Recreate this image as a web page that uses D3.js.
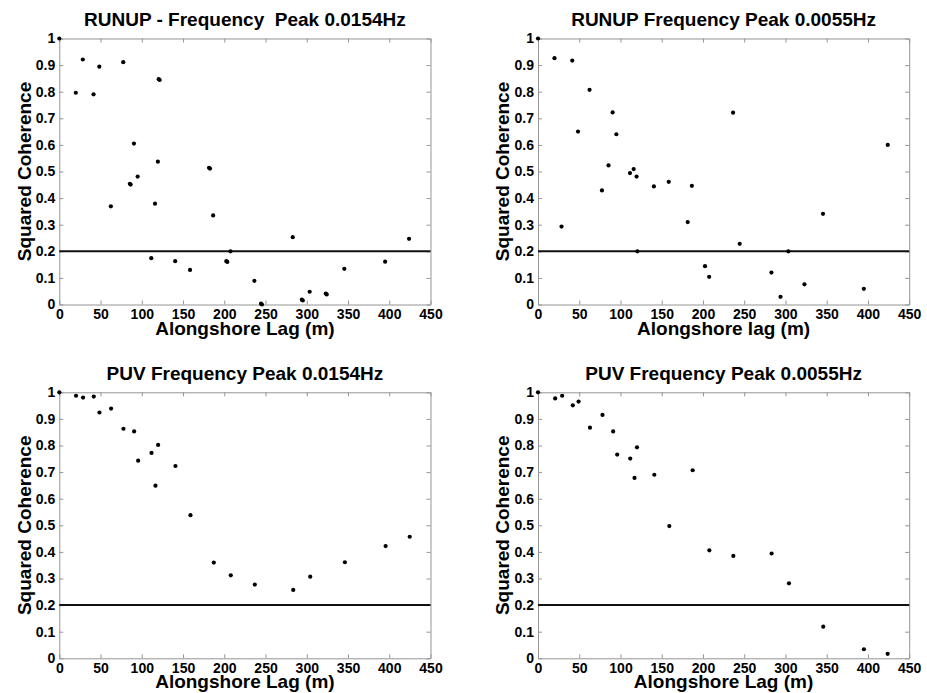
<!DOCTYPE html>
<html>
<head>
<meta charset="utf-8">
<script src="https://cdn.jsdelivr.net/npm/d3@7"></script>
<style>
  html, body { margin: 0; padding: 0; background: #fff; }
  svg { display: block; }
  text { font-family: "Liberation Sans", Arial, Helvetica, sans-serif; font-weight: bold; fill: #000; }
</style>
</head>
<body>
<svg id="chart" width="927" height="693"></svg>
<script>
// Alongshore lag (m) and squared coherence for each sensor pair.
// RUNUP, peak 0.0154 Hz
const runup154Lag = [0, 20, 28.5, 41.5, 48.5, 62.5, 77.5, 85.5, 86.5, 90.5, 95, 111.5, 116, 119.5, 120.5, 121.7,
  140.5, 158.5, 181.5, 182.7, 186.5, 202.5, 203.7, 207.5, 236.5, 244.5, 245.7, 283, 294, 295.2, 303.5, 323, 324.2,
  345.5, 395, 424];
const runup154Coh = [1.0, 0.796, 0.921, 0.790, 0.894, 0.369, 0.911, 0.454, 0.451, 0.605, 0.481, 0.174, 0.379, 0.537, 0.847, 0.844,
  0.163, 0.130, 0.514, 0.511, 0.335, 0.163, 0.160, 0.200, 0.089, 0.003, 0.000, 0.253, 0.018, 0.015, 0.048, 0.041, 0.038,
  0.134, 0.161, 0.247];

// RUNUP, peak 0.0055 Hz
const runup55Lag = [0, 20, 28.5, 41.5, 48.5, 62.5, 77.5, 85.5, 90.5, 95, 111.5, 116, 119.5, 120.5,
  140.5, 158.5, 181.5, 186.5, 202.5, 207.5, 236.5, 244.5, 283, 294, 303.5, 323, 345.5, 395, 424];
const runup55Coh = [1.0, 0.926, 0.293, 0.917, 0.650, 0.807, 0.429, 0.523, 0.722, 0.640, 0.494, 0.509, 0.481, 0.200,
  0.444, 0.461, 0.310, 0.446, 0.144, 0.104, 0.721, 0.228, 0.120, 0.029, 0.200, 0.076, 0.341, 0.059, 0.600];

// PUV, peak 0.0154 Hz
const puv154Lag = [0, 20.3, 28.8, 41.8, 48.7, 62.8, 77.8, 90.7, 95.6, 111.8, 116.6, 119.8, 140.8, 159, 187.3,
  207.9, 237, 283.6, 304.2, 346.2, 395.6, 424.8];
const puv154Coh = [1.0, 0.987, 0.980, 0.984, 0.924, 0.939, 0.863, 0.853, 0.743, 0.772, 0.649, 0.802, 0.723, 0.538, 0.360,
  0.312, 0.277, 0.257, 0.307, 0.361, 0.422, 0.457];

// PUV, peak 0.0055 Hz
const puv55Lag = [0, 20.8, 29.3, 42.2, 49.2, 63, 78.2, 91.1, 96, 111.8, 117, 120, 141, 159.2, 187.5,
  207.7, 236.8, 283.2, 304.2, 345.8, 395.1, 423.9];
const puv55Coh = [1.0, 0.977, 0.987, 0.951, 0.965, 0.867, 0.915, 0.853, 0.766, 0.751, 0.678, 0.793, 0.690, 0.497, 0.707,
  0.406, 0.385, 0.394, 0.282, 0.119, 0.034, 0.017];

const titles = [
  "RUNUP - Frequency  Peak 0.0154Hz",
  "RUNUP Frequency Peak 0.0055Hz",
  "PUV Frequency Peak 0.0154Hz",
  "PUV Frequency Peak 0.0055Hz"
];
const xTitles = ["Alongshore Lag (m)", "Alongshore lag (m)", "Alongshore Lag (m)", "Alongshore Lag (m)"];
const yTitle = "Squared Coherence";
const xTicks = [0, 50, 100, 150, 200, 250, 300, 350, 400, 450];
const yTicks = [0, 0.1, 0.2, 0.3, 0.4, 0.5, 0.6, 0.7, 0.8, 0.9, 1];
const threshold = 0.2;

const series = [
  { lag: runup154Lag, coh: runup154Coh },
  { lag: runup55Lag, coh: runup55Coh },
  { lag: puv154Lag, coh: puv154Coh },
  { lag: puv55Lag, coh: puv55Coh }
];

// Layout of the 2x2 grid of axes
const plotW = 371.2, plotH = 266;
const lefts = [59.3, 538], tops = [38.5, 392.3];
const axisColor = "#959595";

const svg = d3.select("#chart");
svg.append("rect").attr("width", 927).attr("height", 693).attr("fill", "#fff");

series.forEach((s, i) => {
  const left = lefts[i % 2], top = tops[Math.floor(i / 2)];
  const x = d3.scaleLinear().domain([0, 450]).range([0, plotW]);
  const y = d3.scaleLinear().domain([0, 1]).range([plotH, 0]);
  const g = svg.append("g").attr("transform", `translate(${left},${top})`);

  // frame with inward ticks on all four sides
  const fmtY = d => (d === 0 ? "0" : d === 1 ? "1" : d3.format(".1f")(d));
  const bottom = g.append("g").attr("transform", `translate(0,${plotH})`)
    .call(d3.axisBottom(x).tickValues(xTicks).tickFormat(d3.format("d")).tickSizeInner(-4).tickSizeOuter(0).tickPadding(4.5));
  const leftAx = g.append("g")
    .call(d3.axisLeft(y).tickValues(yTicks).tickFormat(fmtY).tickSizeInner(-4).tickSizeOuter(0).tickPadding(4));
  const topAx = g.append("g")
    .call(d3.axisTop(x).tickValues(xTicks).tickFormat("").tickSizeInner(-4).tickSizeOuter(0));
  const rightAx = g.append("g").attr("transform", `translate(${plotW},0)`)
    .call(d3.axisRight(y).tickValues(yTicks).tickFormat("").tickSizeInner(-4).tickSizeOuter(0));

  [bottom, leftAx, topAx, rightAx].forEach(a => {
    a.select(".domain").attr("stroke", axisColor).attr("stroke-width", 1);
    a.selectAll(".tick line").attr("stroke", axisColor).attr("stroke-width", 1);
    a.selectAll(".tick text").attr("font-size", 14).attr("fill", "#000")
      .style("font-family", "'Liberation Sans', Arial, sans-serif").style("font-weight", "bold");
  });

  // coherence significance level
  g.append("line")
    .attr("x1", x(0)).attr("x2", x(450))
    .attr("y1", y(threshold)).attr("y2", y(threshold))
    .attr("stroke", "#111").attr("stroke-width", 2);

  // data points
  g.selectAll("circle.pt")
    .data(d3.zip(s.lag, s.coh))
    .join("circle")
    .attr("class", "pt")
    .attr("cx", d => x(d[0]))
    .attr("cy", d => y(d[1]))
    .attr("r", 2.1)
    .attr("fill", "#000");

  // titles
  g.append("text")
    .attr("x", plotW / 2).attr("y", -12.5)
    .attr("text-anchor", "middle")
    .attr("font-size", 19)
    .style("white-space", "pre")
    .attr("xml:space", "preserve")
    .text(titles[i]);

  g.append("text")
    .attr("x", plotW / 2).attr("y", plotH + 30)
    .attr("text-anchor", "middle")
    .attr("font-size", 19)
    .text(xTitles[i]);

  g.append("text")
    .attr("transform", `translate(-28.8,${plotH / 2}) rotate(-90)`)
    .attr("text-anchor", "middle")
    .attr("font-size", 19)
    .text(yTitle);
});
</script>
</body>
</html>
